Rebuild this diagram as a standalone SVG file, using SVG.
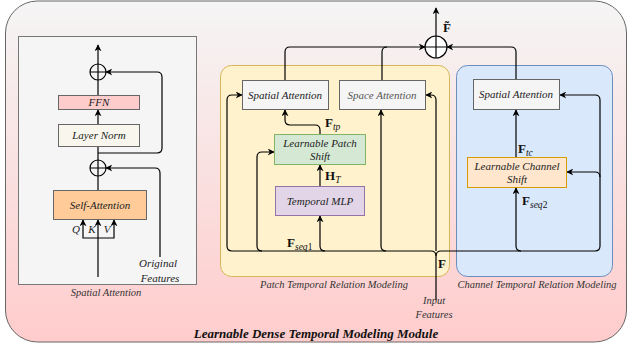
<svg xmlns="http://www.w3.org/2000/svg" width="630" height="348" viewBox="0 0 630 348">
<defs>
<linearGradient id="bg" x1="0" y1="0" x2="0" y2="1">
<stop offset="0" stop-color="#f5f5f5"/>
<stop offset="1" stop-color="#ffcccc"/>
</linearGradient>
<marker id="ar" viewBox="0 0 10 10" refX="9" refY="5" markerWidth="7" markerHeight="7" markerUnits="userSpaceOnUse" orient="auto">
<path d="M0,0 L10,5 L0,10 L3,5 Z" fill="#000"/>
</marker>
</defs>
<style>
.lbl{font-family:"Liberation Serif","Times New Roman",serif;font-style:italic;font-size:11px;fill:#222;text-anchor:middle}
.cap{font-family:"Liberation Serif","Times New Roman",serif;font-style:italic;font-size:10.5px;fill:#333;text-anchor:middle}
.m{font-family:"Liberation Serif","Times New Roman",serif;font-weight:bold;font-size:13px;fill:#111}
.s{font-family:"Liberation Serif","Times New Roman",serif;font-style:italic;font-weight:normal;font-size:9.5px;fill:#111}
.c{fill:none;stroke:#000;stroke-width:1.2}
.box{stroke-width:1}
</style>
<rect x="5.5" y="1" width="621" height="341" rx="32" fill="url(#bg)" stroke="#666" stroke-width="1"/>
<rect x="18.5" y="36.5" width="178" height="248" fill="#f5f5f5" stroke="#777"/>
<rect x="220.5" y="65.5" width="229" height="211" rx="11" fill="#fff2cc" stroke="#d6b656"/>
<rect x="456.5" y="65.5" width="156" height="211" rx="11" fill="#dae8fc" stroke="#6c8ebf"/>

<g id="connectors">
<path class="c" stroke-width="2" d="M98 277 V220" marker-end="url(#ar)"/>
<path class="c" d="M98 238 H83 V220" marker-end="url(#ar)"/>
<path class="c" d="M98 238 H114 V220" marker-end="url(#ar)"/>
<path class="c" stroke-width="2" d="M98 190 V176"/>
<path class="c" stroke-width="2" d="M98 160 V146"/>
<path class="c" d="M98 124 V110" marker-end="url(#ar)"/>
<path class="c" stroke-width="2" d="M98 95 V80"/>
<path class="c" d="M98 64 V45" marker-end="url(#ar)"/>
<path class="c" stroke="#333" d="M98 153 H157 Q162 153 162 148 V77 Q162 72 157 72 H106" marker-end="url(#ar)"/>
<path class="c" stroke="#333" d="M160 257 V173 Q160 168 155 168 H106" marker-end="url(#ar)"/>

<path class="c" d="M285 80 V52 Q285 47 290 47 H425" marker-end="url(#ar)"/>
<path class="c" d="M382 80 V52 Q382 47 387 47"/>
<path class="c" d="M516 79 V52 Q516 47 511 47 H447" marker-end="url(#ar)"/>
<path class="c" d="M436 36 V8" marker-end="url(#ar)"/>

<path class="c" d="M320 186 V165" marker-end="url(#ar)"/>
<path class="c" d="M320 134 V130 Q320 125 315 125 H290 Q285 125 285 120 V110" marker-end="url(#ar)"/>
<path class="c" stroke-width="1.6" d="M436 300 V256 Q436 251 431 251 H232 Q227 251 227 246 V100 Q227 95 232 95 H242" marker-end="url(#ar)"/>
<path class="c" d="M262 251 Q257 251 257 246 V157 Q257 152 262 152 H274" marker-end="url(#ar)"/>
<path class="c" d="M325 251 Q320 251 320 246 V216" marker-end="url(#ar)"/>
<path class="c" d="M386 251 Q381 251 381 246 V110" marker-end="url(#ar)"/>
<path class="c" d="M436 256 Q436 251 441 251 H595 Q600 251 600 246 V100 Q600 95 595 95 H560" marker-end="url(#ar)"/>
<path class="c" d="M521 251 Q516 251 516 246 V188" marker-end="url(#ar)"/>
<path class="c" d="M600 177 Q600 172 595 172 H567" marker-end="url(#ar)"/>
<path class="c" d="M516 157 V110" marker-end="url(#ar)"/>
<path class="c" stroke="#666" d="M436 251 V100 Q436 95 431 95 H426" marker-end="url(#ar)"/>
</g>

<g id="plus-top"><circle cx="98" cy="72" r="8" fill="none" stroke="#000" stroke-width="1.2"/><path d="M90 72 H106 M98 64 V80" stroke="#000" stroke-width="1.2"/></g>
<g id="plus-mid"><circle cx="98" cy="168" r="8" fill="none" stroke="#000" stroke-width="1.2"/><path d="M90 168 H106 M98 160 V176" stroke="#000" stroke-width="1.2"/></g>
<g id="plus-main"><circle cx="436" cy="47" r="11" fill="#fff" stroke="#000" stroke-width="1.2"/><path d="M425 47 H447 M436 36 V58" stroke="#000" stroke-width="1.2"/></g>

<g id="ffn"><rect class="box" x="58.5" y="95.5" width="81" height="14" fill="#ffcccc" stroke="#666"/><text class="lbl" x="99" y="106">FFN</text></g>
<g id="layernorm"><rect class="box" x="58.5" y="124.5" width="81" height="22" fill="#f9f7ed" stroke="#666"/><text class="lbl" x="99" y="139">Layer Norm</text></g>
<g id="selfattn"><rect class="box" x="53.5" y="190.5" width="93" height="29" fill="#ffcc99" stroke="#666"/><text class="lbl" x="100" y="209">Self-Attention</text></g>
<text class="lbl" x="76" y="233">Q</text>
<text class="lbl" x="92" y="233">K</text>
<text class="lbl" x="107" y="233">V</text>
<text class="lbl" x="158" y="267">Original</text>
<text class="lbl" x="160" y="282">Features</text>
<text class="cap" x="106" y="296">Spatial Attention</text>

<g id="sa-patch"><rect class="box" x="242.5" y="80.5" width="86" height="29" fill="#f5f5f5" stroke="#666"/><text class="lbl" x="285" y="99">Spatial Attention</text></g>
<g id="space-attn"><rect class="box" x="339.5" y="80.5" width="86" height="29" fill="#f5f5f5" stroke="#666"/><text class="lbl" x="382" y="99" style="fill:#555">Space Attention</text></g>
<g id="lps"><rect class="box" x="274.5" y="134.5" width="91" height="30" fill="#d5e8d4" stroke="#82b366"/><text class="lbl" x="320" y="147">Learnable Patch</text><text class="lbl" x="320" y="160">Shift</text></g>
<g id="tmlp"><rect class="box" x="275.5" y="186.5" width="89" height="29" fill="#e1d5e7" stroke="#9673a6"/><text class="lbl" x="320" y="205">Temporal MLP</text></g>
<g id="sa-chan"><rect class="box" x="473.5" y="79.5" width="86" height="30" fill="#f5f5f5" stroke="#666"/><text class="lbl" x="516" y="98">Spatial Attention</text></g>
<g id="lcs"><rect class="box" x="467.5" y="157.5" width="99" height="30" fill="#ffe6cc" stroke="#d79b00"/><text class="lbl" x="517" y="170">Learnable Channel</text><text class="lbl" x="517" y="183">Shift</text></g>

<text class="m" x="443" y="32">F̃</text>
<text class="m" x="325" y="127">F<tspan class="s" dy="3">tp</tspan></text>
<text class="m" x="325" y="180">H<tspan class="s" dy="3">T</tspan></text>
<text class="m" x="287" y="247">F<tspan class="s" dy="3">seq</tspan><tspan style="font-weight:normal;font-size:9.5px" dy="0">1</tspan></text>
<text class="m" x="438" y="268">F</text>
<text class="m" x="518" y="153">F<tspan class="s" dy="3">tc</tspan></text>
<text class="m" x="522" y="205">F<tspan class="s" dy="3">seq</tspan><tspan style="font-weight:normal;font-size:9.5px" dy="0">2</tspan></text>

<text class="cap" x="334" y="288">Patch Temporal Relation Modeling</text>
<text class="cap" x="537" y="288">Channel Temporal Relation Modeling</text>
<text class="cap" x="434" y="304">Input</text>
<text class="cap" x="434" y="318">Features</text>
<text x="316" y="338" style="font-family:'Liberation Serif','Times New Roman',serif;font-weight:bold;font-style:italic;font-size:13px;fill:#111;text-anchor:middle">Learnable Dense Temporal Modeling Module</text>
</svg>
